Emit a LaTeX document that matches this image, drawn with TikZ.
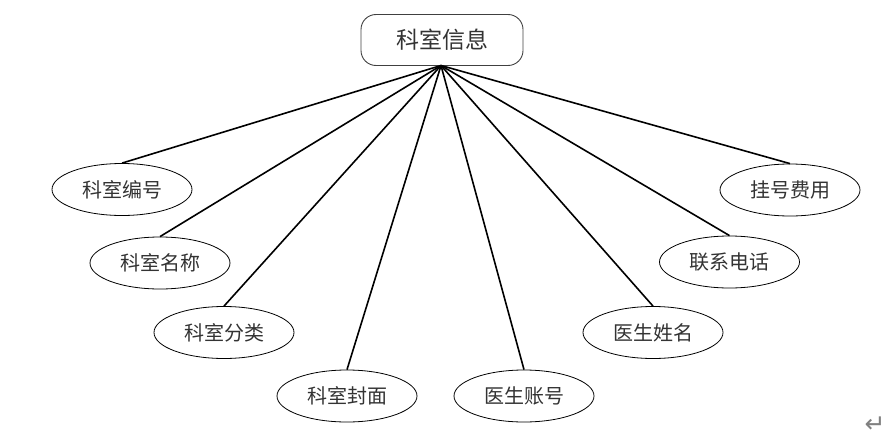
\documentclass[tikz,border=0pt]{standalone}
\usepackage{fontspec}
\newfontfamily\cjk{Noto Sans CJK SC}
\newfontfamily\symfont{DejaVu Sans}
\usetikzlibrary{shapes.geometric}
\tikzset{
  entbox/.style={draw=black!75, line width=0.9pt, rounded corners=15pt, minimum width=162pt, minimum height=51pt, inner sep=0pt, font=\cjk\fontsize{23}{27}\selectfont, text=black!80},
  attr/.style={draw=black, ellipse, line width=0.8pt, minimum width=140pt, minimum height=52pt, inner sep=0pt, font=\cjk\fontsize{20}{24}\selectfont, text=black!80},
  link/.style={line width=1.6pt, black}
}
\begin{document}
\begin{tikzpicture}[x=1pt,y=-1pt]
\useasboundingbox (0,0) rectangle (894,444);
\node[entbox] (top) at (442,40) {科室信息};
\node[attr] (a1) at (122,189.5) {科室编号};
\node[attr] (a2) at (160,263) {科室名称};
\node[attr] (a3) at (224,332.5) {科室分类};
\node[attr] (a4) at (347,396) {科室封面};
\node[attr] (a5) at (524,396) {医生账号};
\node[attr] (a6) at (653,332.5) {医生姓名};
\node[attr] (a7) at (729.5,262) {联系电话};
\node[attr] (a8) at (790,190) {挂号费用};
\coordinate (hub) at (441,65.5);
\foreach \n in {a1,a2,a3,a4,a5,a6,a7,a8}
  \draw[link] (hub) -- (\n.north);
\node[text=black!50, font=\symfont\fontsize{25}{27}\selectfont] (ret) at (875,425) {↵};
\end{tikzpicture}
\end{document}
